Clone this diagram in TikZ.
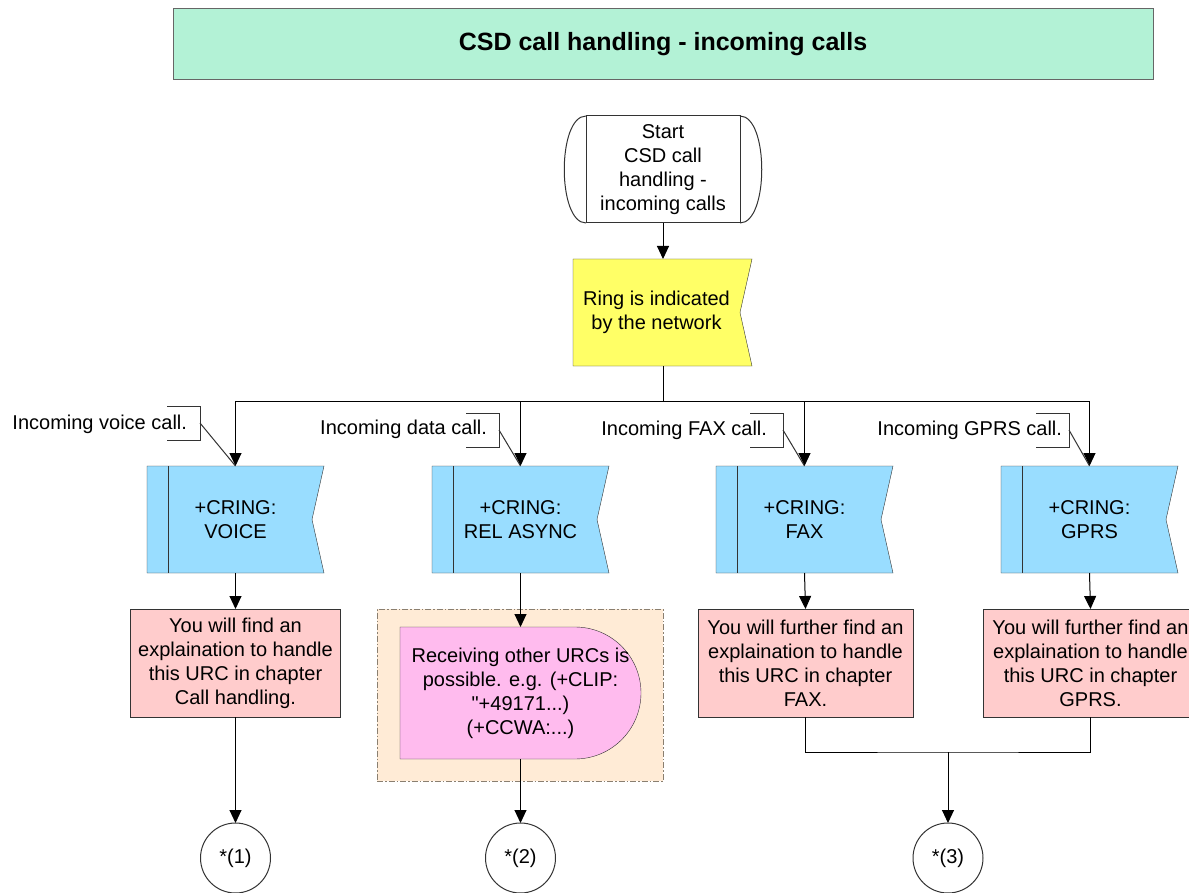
\documentclass[tikz,border=0pt]{standalone}
\usepackage{fontspec}
\setmainfont{Liberation Sans}[Ligatures=TeXOff]
\usetikzlibrary{arrows.meta,calc,backgrounds}

\definecolor{titlemint}{HTML}{B3F2D6}
\definecolor{ringyellow}{HTML}{FFFF66}
\definecolor{cringblue}{HTML}{99DDFF}
\definecolor{notepink}{HTML}{FFCCCC}
\definecolor{urcpink}{HTML}{FFBBEE}
\definecolor{grpfill}{HTML}{FFEBD6}
\definecolor{grpline}{HTML}{8A7F70}
\definecolor{edge}{HTML}{333333}

\begin{document}
\begin{tikzpicture}[x=1pt,y=-1pt,line width=1pt,
  every node/.style={font=\fontsize{20}{24}\selectfont,align=center,inner sep=0pt,outer sep=0pt},
  arr/.style={-{Triangle[length=13pt,width=12pt]}},
  titlebox/.style={draw=black!60,fill=titlemint,minimum width=980,minimum height=71,
    font=\fontsize{25}{30}\selectfont\bfseries},
  startbox/.style={draw=edge,minimum width=154,minimum height=107},
  ringbox/.style={minimum width=167,minimum height=107},
  cringbox/.style={minimum width=177,minimum height=107},
  notebox/.style={draw=edge,fill=notepink,minimum width=#1,minimum height=108},
  urcbox/.style={minimum width=241,minimum height=132},
  grpbox/.style={draw=grpline,fill=grpfill,dash pattern=on 6pt off 2pt on 1.5pt off 2pt,
    minimum width=286,minimum height=172},
  connector/.style={draw=edge,circle,minimum size=70},
  calltext/.style={anchor=east},
  bracket/.style={draw=edge}]

\useasboundingbox (0,0) rectangle (1189,893);

% title banner
\node[titlebox] (title) at (663,44.5) {CSD call handling - incoming calls};

% start terminator
\node[startbox] (start) at (663,169.5) {Start\\CSD call\\handling -\\incoming calls};
\draw[edge] (start.north west)
  .. controls ($(start.north west)+(-29,0)$) and ($(start.south west)+(-29,0)$) .. (start.south west);
\draw[edge] (start.north east)
  .. controls ($(start.north east)+(29,0)$) and ($(start.south east)+(29,0)$) .. (start.south east);

% received signal from the network
\node[ringbox] (ring) at (656.5,312.5) {Ring is indicated\\by the network};

% +CRING indications
\node[cringbox] (cv) at (235.5,519.5) {+CRING:\\VOICE};
\node[cringbox] (cd) at (520.5,519.5) {+CRING:\\REL ASYNC};
\node[cringbox] (cf) at (804.5,519.5) {+CRING:\\FAX};
\node[cringbox] (cg) at (1089.5,519.5) {+CRING:\\GPRS};

% notes
\node[notebox=210] (pv) at (235.5,663) {You will find an\\explaination to handle\\this URC in chapter\\Call handling.};
\node[notebox=215] (pf) at (805.5,663) {You will further find an\\explaination to handle\\this URC in chapter\\FAX.};
\node[notebox=215] (pg) at (1090.5,663) {You will further find an\\explaination to handle\\this URC in chapter\\GPRS.};

% other URCs
\node[urcbox] (urcs) at (520.5,693) {Receiving other URCs is\\possible. e.g. (+CLIP:\\"+49171...)\\(+CCWA:...)};

% off-page connectors
\node[connector] (c1) at (235.5,858) {*(1)};
\node[connector] (c2) at (520.5,858) {*(2)};
\node[connector] (c3) at (948,858) {*(3)};

% shapes behind the texts
\begin{scope}[on background layer]
  \draw[draw=edge,fill=ringyellow] (ring.north west) -- ($(ring.north east)+(12,0)$)
    -- (ring.east) -- ($(ring.south east)+(12,0)$) -- (ring.south west) -- cycle;
  \foreach \n in {cv,cd,cf,cg}{
    \draw[draw=edge,fill=cringblue] (\n.north west) -- (\n.north east)
      -- ($(\n.east)+(-12,0)$) -- (\n.south east) -- (\n.south west) -- cycle;
    \draw[edge] ($(\n.north west)+(21,0)$) -- ($(\n.south west)+(21,0)$);
  }
  \node[grpbox] (grp) at (520,695) {};
  \draw[draw=edge,fill=urcpink] (urcs.north west) -- ($(urcs.north east)+(-66,0)$)
    arc[start angle=-90,end angle=90,radius=66] -- (urcs.south west) -- cycle;
\end{scope}

% flow
\coordinate (bus) at (663,401);
\draw[arr] (start.south) -- (ring.north -| start.south);
\draw (ring.south -| start.south) -- (bus);
\draw[arr] (bus) -| (cv.north);
\draw[arr] (bus) -| (cd.north);
\draw[arr] (bus) -| (cf.north);
\draw[arr] (bus) -| (cg.north);

\draw[arr] (cv.south) -- (pv.north);
\draw[arr] (cd.south) -- (urcs.north);
\draw[arr] (cf.south) -- (pf.north);
\draw[arr] (cg.south) -- (pg.north);

\draw[arr] (pv.south) -- (c1.north);
\draw[arr] (urcs.south) -- (c2.north);
\coordinate (merge) at (948,752);
\draw (pf.south) |- (merge) -| (pg.south);
\draw[arr] (merge) -- (c3.north);

% call type annotations
\node[calltext] (lv) at (187,424) {Incoming voice call.};
\node[calltext] (ld) at (487,429) {Incoming data call.};
\node[calltext] (lf) at (767,430) {Incoming FAX call.};
\node[calltext] (lg) at (1062,430) {Incoming GPRS call.};

\coordinate (bv) at (200,423);
\coordinate (bd) at (499,430);
\coordinate (bf) at (783,430);
\coordinate (bg) at (1069,430);
\foreach \b in {bv,bd,bf,bg}{
  \draw[bracket] ($(\b)+(-33,-17)$) -- ($(\b)+(0,-17)$) -- ($(\b)+(0,17)$) -- ($(\b)+(-33,17)$);
}
\draw[edge] (bv) -- (cv.north);
\draw[edge] (bd) -- (cd.north);
\draw[edge] (bf) -- (cf.north);
\draw[edge] (bg) -- (cg.north);

\end{tikzpicture}
\end{document}
